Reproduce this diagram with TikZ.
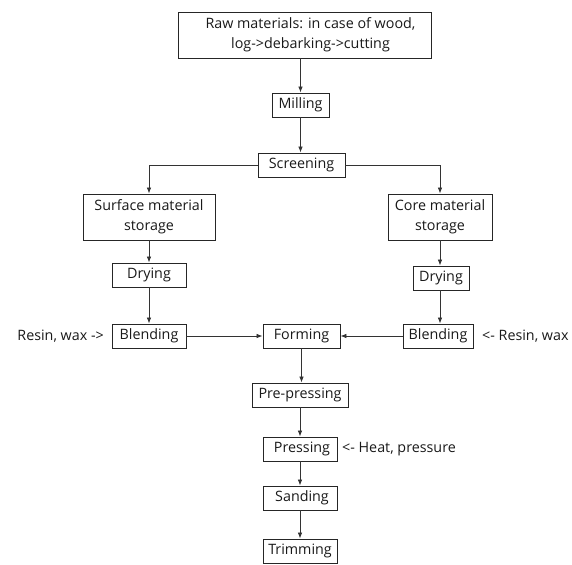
\documentclass[tikz,border=0pt]{standalone}
\usepackage{fontspec}
\setmainfont{Open Sans}
\usetikzlibrary{arrows.meta}
\begin{document}
\begin{tikzpicture}[x=1pt,y=-1pt,
  box/.style={draw=black!85, line width=0.9pt, inner sep=0pt, align=center,
    font=\fontsize{14.3}{20}\selectfont, text=black!90},
  lbl/.style={inner sep=0pt, font=\fontsize{14.3}{20}\selectfont, text=black!90},
  arr/.style={draw=black!80, line width=0.7pt, -{Latex[length=6pt,width=4.5pt]}}]
\useasboundingbox (0,0) rectangle (572,564);
\node[box, minimum width=253pt, minimum height=46pt] (raw) at (304.5,35) {\hspace*{12pt}Raw materials: in case of wood,\\\hspace*{12pt}log->debarking->cutting};
\node[box, minimum width=57pt, minimum height=24pt] (mill) at (300.5,105) {Milling};
\node[box, minimum width=87pt, minimum height=24pt] (screen) at (301.5,165) {Screening};
\node[box, minimum width=132pt, minimum height=46pt] (surf) at (149,217) {Surface material\\storage};
\node[box, minimum width=74pt, minimum height=24pt] (dryL) at (149,275) {Drying};
\node[box, minimum width=74pt, minimum height=24pt] (blendL) at (149,336) {Blending};
\node[box, minimum width=104pt, minimum height=46pt] (core) at (440,217) {Core material\\storage};
\node[box, minimum width=56pt, minimum height=24pt] (dryR) at (441,278) {Drying};
\node[box, minimum width=70pt, minimum height=24pt] (blendR) at (438,336) {Blending};
\node[box, minimum width=77pt, minimum height=24pt] (form) at (301.5,336) {Forming};
\node[box, minimum width=96pt, minimum height=24pt] (pre) at (300,395) {Pre-pressing};
\node[box, minimum width=74pt, minimum height=24pt] (press) at (300,449) {\hspace*{4pt}Pressing};
\node[box, minimum width=74pt, minimum height=24pt] (sand) at (300,498) {\hspace*{4pt}Sanding};
\node[box, minimum width=74pt, minimum height=24pt] (trim) at (300,551) {Trimming};
\node[lbl, anchor=east] (resinL) at (104,336) {Resin, wax ->};
\node[lbl, anchor=west] (resinR) at (482,336) {<- Resin, wax};
\node[lbl, anchor=west] (heat) at (342,449) {<- Heat, pressure};
\draw[arr] (mill.north |- raw.south) -- (mill.north);
\draw[arr] (mill.south) -- (screen.north -| mill.south);
\draw[arr] (screen.west) -| (surf.north);
\draw[arr] (screen.east) -| (core.north);
\draw[arr] (surf.south) -- (dryL.north);
\draw[arr] (dryL.south) -- (blendL.north);
\draw[arr] (blendL.east) -- (form.west);
\draw[arr] (core.south) -- (core.south |- dryR.north);
\draw[arr] (dryR.south -| core.south) -- (core.south |- blendR.north);
\draw[arr] (blendR.west) -- (form.east);
\draw[arr] (form.south) -- (form.south |- pre.north);
\draw[arr] (pre.south) -- (press.north);
\draw[arr] (press.south) -- (sand.north);
\draw[arr] (sand.south) -- (trim.north);
\end{tikzpicture}
\end{document}
